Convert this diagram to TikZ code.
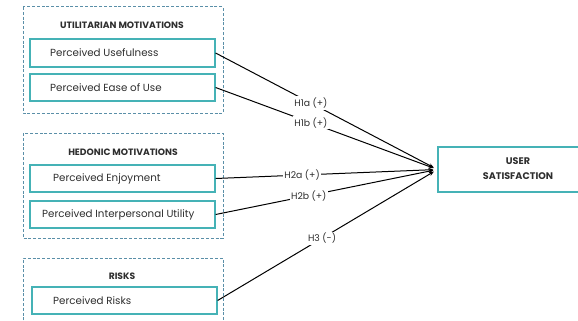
\documentclass[tikz,border=0pt]{standalone}
\usepackage{fontspec}
\setmainfont{Poppins}
\usetikzlibrary{arrows.meta}
\definecolor{tealbox}{HTML}{45B2B6}
\definecolor{groupline}{HTML}{5A8FA8}
\definecolor{ink}{HTML}{2E2E2E}
\tikzset{
  group/.style={draw=groupline, dash pattern=on 3pt off 1.8pt, line width=1pt},
  itembox/.style={draw=tealbox, line width=1.2pt, rectangle, inner sep=0pt},
  itemtext/.style={anchor=west, text=ink, font=\fontsize{10.3}{12}\selectfont, inner sep=0pt},
  grouptitle/.style={text=ink, font=\bfseries\fontsize{9.2}{11}\selectfont, inner sep=0pt},
  link/.style={draw=black, line width=1pt, -{Stealth[length=5pt,width=4pt]}, shorten >=4pt},
  hyp/.style={fill=white, text=ink, font=\fontsize{9.3}{11}\selectfont, inner sep=1.5pt}
}
\begin{document}
\begin{tikzpicture}[x=1pt, y=-1pt]
\useasboundingbox (0,0) rectangle (578,321);

% dashed group frames
\draw[group] (23,7) rectangle (223,113);
\draw[group] (23,133) rectangle (223,238);
\draw[group] (23,330) -- (23,258) -- (223,258) -- (223,330);

\node[grouptitle] (t1) at (122,25) {UTILITARIAN MOTIVATIONS};
\node[grouptitle] (t2) at (123,152) {HEDONIC MOTIVATIONS};
\node[grouptitle] (t3) at (122,276) {RISKS};

% construct boxes
\node[itembox, minimum width=185pt, minimum height=28pt] (pu) at (122.5,53) {};
\node[itembox, minimum width=185pt, minimum height=27pt] (peou) at (122.5,87.5) {};
\node[itembox, minimum width=185pt, minimum height=27pt] (pe) at (122.5,178.5) {};
\node[itembox, minimum width=185pt, minimum height=27pt] (piu) at (122.5,214.5) {};
\node[itembox, minimum width=185pt, minimum height=27pt] (pr) at (124.5,300.5) {};

\node[itemtext] (pul) at (50,53) {Perceived Usefulness};
\node[itemtext] (peoul) at (50,87.5) {Perceived Ease of Use};
\node[itemtext] (pel) at (53,178.5) {Perceived Enjoyment};
\node[itemtext] (piul) at (42,214.5) {Perceived Interpersonal Utility};
\node[itemtext] (prl) at (53,300.5) {Perceived Risks};

% outcome
\node[itembox, minimum width=150pt, minimum height=45pt] (us) at (513,169.5) {};
\node[grouptitle, align=center, font=\bfseries\fontsize{9.6}{15}\selectfont] (usl) at (518,168.5) {USER\\SATISFACTION};

% hypothesised paths
\draw[link] (pu.east) -- node[hyp, pos=0.43] (h1a) {H1a (+)} (us.west);
\draw[link] (peou.east) -- node[hyp, pos=0.43] (h1b) {H1b (+)} (us.west);
\draw[link] (pe.east) -- node[hyp, pos=0.39] (h2a) {H2a (+)} (us.west);
\draw[link] (piu.east) -- node[hyp, pos=0.42] (h2b) {H2b (+)} (us.west);
\draw[link] (pr.east) -- node[hyp, pos=0.475] (h3) {H3 (-)} (us.west);
\end{tikzpicture}
\end{document}
